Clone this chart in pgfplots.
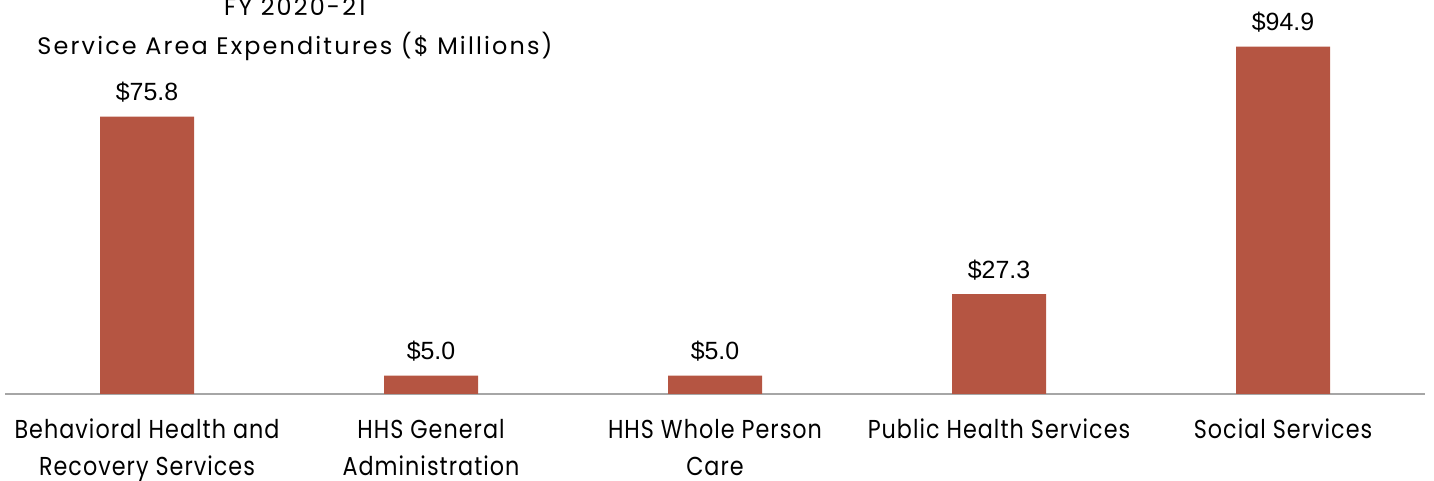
\documentclass[border=0pt]{standalone}
\usepackage{pgfplots}
\pgfplotsset{compat=1.18}
\usepackage{fontspec}
\setmainfont{Liberation Sans}
\newfontfamily\futura{Poppins}[FakeStretch=0.86, LetterSpace=4]
\newfontfamily\titlefont{Poppins}[LetterSpace=9]
\definecolor{barc}{RGB}{181,85,66}
\definecolor{axisgray}{RGB}{166,166,166}
\begin{document}
\begin{tikzpicture}[x=1bp,y=1bp]
\path[use as bounding box] (0,0) rectangle (1434,481);
\begin{axis}[
  at={(5bp,87bp)}, anchor=south west,
  scale only axis, width=1420bp, height=366bp,
  xmin=-0.5, xmax=4.5, ymin=0, ymax=100,
  axis x line*=bottom, axis y line=none,
  x axis line style={draw=axisgray, line width=2bp, -},
  xtick={0,1,2,3,4}, major tick length=0pt, ytick=\empty,
  xticklabels={{Behavioral Health and\\Recovery Services},{HHS General\\Administration},{HHS Whole Person\\Care},{Public Health Services},{Social Services}},
  xticklabel style={align=center, font=\futura\fontsize{26}{37}\selectfont, anchor=north, inner sep=0pt, yshift=-25bp},
  clip=false,
]
\addplot[ybar, bar width=94bp, fill=barc, draw=none,
  nodes near coords={\$\pgfmathprintnumber[fixed,fixed zerofill,precision=1,assume math mode=true]{\pgfplotspointmeta}},
  nodes near coords style={font=\fontsize{25}{25}\selectfont, anchor=base, inner sep=0pt, yshift=16bp, text=black}]
  coordinates {(0,75.8) (1,5.0) (2,5.0) (3,27.3) (4,94.9)};
\end{axis}
\node[font=\titlefont\fontsize{24}{30}\selectfont, anchor=base] at (295,465) {FY 2020-21};
\node[font=\titlefont\fontsize{24}{30}\selectfont, anchor=base] at (295,426) {Service Area Expenditures (\$ Millions)};
\end{tikzpicture}
\end{document}
